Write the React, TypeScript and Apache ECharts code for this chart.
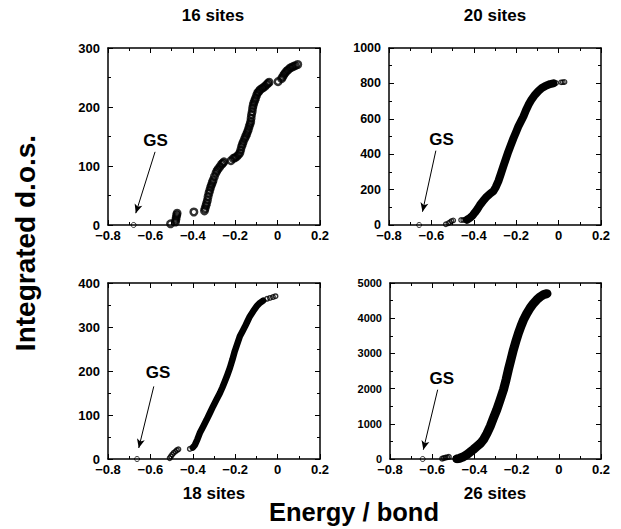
import React, { useEffect, useRef } from "react";
import * as echarts from "echarts";

// ---------- data ----------
// x tick values shared by all panels
const xTicks = [-0.8, -0.6, -0.4, -0.2, 0, 0.2];

// 16 sites: individual states (energy / bond, integrated count)
const dots16: number[][] = [
  [-0.505, 2], [-0.482, 5], [-0.480, 9], [-0.478, 13], [-0.476, 17], [-0.474, 20],
  [-0.395, 22], [-0.345, 24], [-0.342, 28], [-0.338, 33], [-0.335, 37], [-0.331, 42],
  [-0.328, 48], [-0.324, 54], [-0.320, 59], [-0.316, 64], [-0.312, 68], [-0.308, 72],
  [-0.304, 76], [-0.298, 82], [-0.291, 88], [-0.286, 92], [-0.280, 95], [-0.272, 99],
  [-0.264, 103], [-0.258, 105], [-0.253, 107], [-0.220, 109], [-0.209, 113], [-0.201, 114],
  [-0.193, 116], [-0.185, 119], [-0.178, 122], [-0.174, 127], [-0.170, 133], [-0.166, 137],
  [-0.162, 141], [-0.156, 146], [-0.151, 150], [-0.146, 154], [-0.142, 158], [-0.138, 162],
  [-0.134, 167], [-0.130, 171], [-0.127, 175], [-0.125, 181], [-0.123, 187], [-0.120, 192],
  [-0.118, 198], [-0.115, 203], [-0.112, 207], [-0.108, 211], [-0.104, 215], [-0.099, 220],
  [-0.094, 224], [-0.089, 226], [-0.083, 229], [-0.075, 231], [-0.068, 233], [-0.060, 235],
  [-0.052, 238], [-0.046, 240], [-0.040, 242], [0.002, 243], [0.019, 248], [0.024, 251],
  [0.030, 255], [0.036, 258], [0.043, 261], [0.050, 263], [0.058, 266], [0.066, 267],
  [0.074, 269], [0.084, 270], [0.095, 272],
];
const gs16 = [-0.679, 0];
const gsLabel16 = [-0.576, 144];
const gsArrow16 = [[-0.578, 124], [-0.669, 20]];

// 20 sites
const dots20: number[][] = [
  [-0.532, 4], [-0.520, 10], [-0.512, 16], [-0.505, 22], [-0.497, 26],
  [-0.460, 28], [-0.450, 28], [-0.440, 29],
  [-0.012, 802], [0.012, 806], [0.020, 807], [0.028, 808],
];
const band20: number[][] = [
  [-0.432, 30], [-0.418, 40], [-0.405, 55], [-0.395, 70], [-0.383, 90], [-0.371, 113],
  [-0.355, 138], [-0.339, 160], [-0.322, 178], [-0.308, 190], [-0.296, 215], [-0.284, 248],
  [-0.272, 290], [-0.261, 330], [-0.249, 373], [-0.237, 415], [-0.225, 453], [-0.213, 490],
  [-0.201, 524], [-0.190, 556], [-0.178, 585], [-0.166, 613], [-0.154, 648], [-0.142, 679],
  [-0.127, 710], [-0.111, 736], [-0.095, 757], [-0.079, 774], [-0.060, 787], [-0.040, 796],
  [-0.025, 800],
];
const gs20 = [-0.658, 0];
const gsLabel20 = [-0.552, 481];
const gsArrow20 = [[-0.579, 420], [-0.642, 75]];

// 18 sites
const dots18: number[][] = [
  [-0.509, 2], [-0.503, 6], [-0.497, 10], [-0.490, 14], [-0.482, 17], [-0.475, 20],
  [-0.468, 22], [-0.414, 23],
  [-0.050, 364], [-0.036, 366], [-0.022, 368], [-0.010, 370],
];
const band18: number[][] = [
  [-0.400, 26], [-0.390, 32], [-0.378, 45], [-0.367, 59], [-0.351, 74], [-0.335, 89],
  [-0.320, 104], [-0.304, 120], [-0.288, 135], [-0.272, 150], [-0.260, 163], [-0.249, 176],
  [-0.237, 191], [-0.225, 207], [-0.213, 226], [-0.202, 245], [-0.190, 262], [-0.178, 279],
  [-0.166, 290], [-0.154, 301], [-0.142, 313], [-0.131, 324], [-0.115, 336], [-0.099, 347],
  [-0.083, 355], [-0.068, 360],
];
const gs18 = [-0.663, 0];
const gsLabel18 = [-0.564, 197];
const gsArrow18 = [[-0.584, 165], [-0.655, 25]];

// 26 sites
const dots26: number[][] = [
  [-0.553, 10], [-0.545, 25], [-0.537, 40], [-0.529, 50], [-0.521, 60],
];
const band26: number[][] = [
  [-0.483, 5], [-0.470, 20], [-0.455, 55], [-0.436, 122], [-0.420, 200], [-0.405, 270],
  [-0.388, 358], [-0.372, 440], [-0.357, 548], [-0.341, 720], [-0.325, 926], [-0.310, 1160],
  [-0.294, 1400], [-0.278, 1680], [-0.262, 1969], [-0.250, 2250], [-0.239, 2537],
  [-0.227, 2820], [-0.215, 3105], [-0.203, 3350], [-0.191, 3579], [-0.179, 3780],
  [-0.167, 3957], [-0.152, 4130], [-0.136, 4290], [-0.120, 4420], [-0.104, 4527],
  [-0.088, 4610], [-0.072, 4669], [-0.056, 4697],
];
const gs26 = [-0.645, 0];
const gsLabel26 = [-0.555, 2301];
const gsArrow26 = [[-0.574, 1969], [-0.642, 264]];

const titles = ["16 sites", "20 sites", "18 sites", "26 sites"];
const yMaxes = [300, 1000, 400, 5000];
const yIntervals = [100, 200, 100, 1000];
const xLabel = "Energy / bond";
const yLabel = "Integrated d.o.s.";

// ---------- layout / style ----------
const FONT = '"Liberation Sans", Arial, Helvetica, sans-serif';

const grids = [
  { left: 108, top: 48, width: 212, height: 177 },
  { left: 389, top: 48, width: 212, height: 177 },
  { left: 108, top: 283, width: 212, height: 176 },
  { left: 390, top: 283, width: 211, height: 176 },
];
const titlePos = [
  [213, 15],
  [495, 15],
  [214, 493],
  [495, 493],
];
const yLabelFont = [13, 12.5, 13, 11];
const panelDots = [dots16, dots20, dots18, dots26];
const panelBands: (number[][] | null)[] = [null, band20, band18, band26];
const bandWidth = [0, 8, 6.5, 9];
const dotSize = [6.5, 4.5, 4.5, 4.5];
const dotBorder = [2.5, 1.3, 1.5, 1.5];
const gsPoints = [gs16, gs20, gs18, gs26];
const gsLabels = [gsLabel16, gsLabel20, gsLabel18, gsLabel26];
const gsArrows = [gsArrow16, gsArrow20, gsArrow18, gsArrow26];

const fmtX = (v: number) => {
  const r = Math.round(v * 10) / 10;
  if (r === 0) return "0";
  return (r < 0 ? "\u2212" : "") + Math.abs(r).toFixed(1);
};
const fmtY = (v: number) => String(Math.round(v));

function buildOption() {
  const xAxis: any[] = [];
  const yAxis: any[] = [];
  const series: any[] = [];
  const axisLine = { show: true, onZero: false, lineStyle: { color: "#000", width: 1.5 } };
  const axisTick = { show: true, inside: true, length: 5, lineStyle: { color: "#000", width: 1 } };
  const minorTick = { show: true, splitNumber: 2, length: 3, lineStyle: { color: "#000", width: 1 } };

  for (let i = 0; i < 4; i++) {
    const xBase = {
      type: "value",
      gridIndex: i,
      min: xTicks[0],
      max: xTicks[xTicks.length - 1],
      interval: 0.2,
      axisLine,
      axisTick,
      minorTick,
      splitLine: { show: false },
      minorSplitLine: { show: false },
    };
    xAxis.push({
      ...xBase,
      position: "bottom",
      axisLabel: {
        show: true,
        margin: 4,
        color: "#000",
        fontSize: 13,
        lineHeight: 12,
        fontWeight: "bold",
        fontFamily: FONT,
        formatter: fmtX,
        showMinLabel: true,
        showMaxLabel: true,
      },
    });
    xAxis.push({ ...xBase, position: "top", axisLabel: { show: false } });

    const yBase = {
      type: "value",
      gridIndex: i,
      min: 0,
      max: yMaxes[i],
      interval: yIntervals[i],
      axisLine,
      axisTick,
      minorTick,
      splitLine: { show: false },
      minorSplitLine: { show: false },
    };
    yAxis.push({
      ...yBase,
      position: "left",
      axisLabel: {
        show: true,
        margin: 8,
        color: "#000",
        fontSize: yLabelFont[i],
        lineHeight: 10,
        fontWeight: "bold",
        fontFamily: FONT,
        formatter: fmtY,
        showMinLabel: true,
        showMaxLabel: true,
      },
    });
    yAxis.push({ ...yBase, position: "right", axisLabel: { show: false } });

    const band = panelBands[i];
    if (band) {
      series.push({
        type: "line",
        xAxisIndex: 2 * i,
        yAxisIndex: 2 * i,
        data: band,
        showSymbol: false,
        symbol: "none",
        silent: true,
        lineStyle: { color: "#000", width: bandWidth[i], cap: "round", join: "round" },
        z: 3,
      });
    }
    series.push({
      type: "scatter",
      xAxisIndex: 2 * i,
      yAxisIndex: 2 * i,
      data: panelDots[i],
      symbol: "circle",
      symbolSize: dotSize[i],
      silent: true,
      itemStyle: { color: "rgba(0,0,0,0)", borderColor: "#000", borderWidth: dotBorder[i] },
      z: 4,
    });
    series.push({
      type: "scatter",
      xAxisIndex: 2 * i,
      yAxisIndex: 2 * i,
      data: [gsPoints[i]],
      symbol: "circle",
      symbolSize: 5,
      silent: true,
      itemStyle: { color: "rgba(0,0,0,0)", borderColor: "#000", borderWidth: 1 },
      z: 4,
      markLine: {
        silent: true,
        symbol: ["none", "arrow"],
        symbolSize: [6, 9],
        lineStyle: { color: "#000", width: 1, type: "solid" },
        label: { show: false },
        data: [[{ coord: gsArrows[i][0] }, { coord: gsArrows[i][1] }]],
      },
      markPoint: {
        silent: true,
        symbol: "rect",
        symbolSize: 1,
        itemStyle: { color: "rgba(0,0,0,0)" },
        label: {
          show: true,
          position: "inside",
          formatter: "GS",
          color: "#000",
          fontSize: 17,
          fontWeight: "bold",
          fontFamily: FONT,
        },
        data: [{ coord: gsLabels[i] }],
      },
    });
  }

  const graphic: any[] = titles.map((t, i) => ({
    type: "text",
    x: titlePos[i][0],
    y: titlePos[i][1],
    silent: true,
    style: {
      text: t,
      fill: "#000",
      font: `bold 17px ${FONT}`,
      textAlign: "center",
      textVerticalAlign: "middle",
    },
  }));
  graphic.push({
    type: "text",
    x: 354,
    y: 512,
    silent: true,
    style: {
      text: xLabel,
      fill: "#000",
      font: `bold 25.5px ${FONT}`,
      textAlign: "center",
      textVerticalAlign: "middle",
    },
  });
  graphic.push({
    type: "text",
    x: 25,
    y: 243,
    rotation: Math.PI / 2,
    silent: true,
    style: {
      text: yLabel,
      fill: "#000",
      font: `bold 28px ${FONT}`,
      textAlign: "center",
      textVerticalAlign: "middle",
    },
  });

  return {
    animation: false,
    backgroundColor: "#fff",
    textStyle: { fontFamily: FONT },
    grid: grids.map((g) => ({ ...g, containLabel: false })),
    xAxis,
    yAxis,
    series,
    graphic,
  };
}

export default function App() {
  const ref = useRef<HTMLDivElement>(null);
  useEffect(() => {
    if (!ref.current) return;
    const chart = echarts.init(ref.current, undefined, { renderer: "svg" });
    chart.setOption(buildOption() as any);
    return () => chart.dispose();
  }, []);
  return (
    <div
      ref={ref}
      style={{ position: "absolute", left: 0, top: 0, width: 621, height: 529, background: "#fff" }}
    />
  );
}
